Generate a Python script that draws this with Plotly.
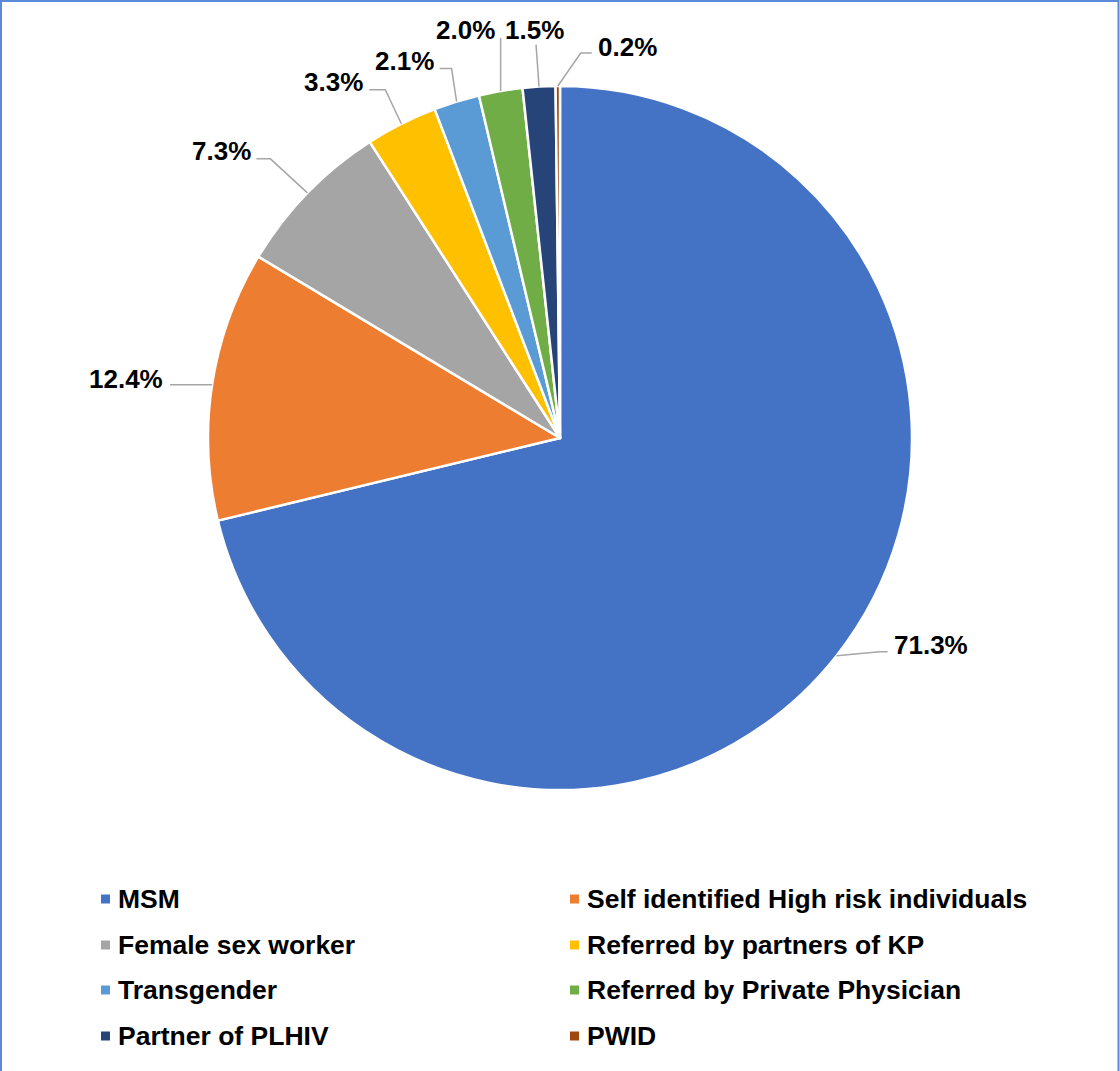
import math
import plotly.graph_objects as go

# Share of clients by referral / key-population category (%)
categories = [
    "MSM",
    "Self identified High risk individuals",
    "Female sex worker",
    "Referred by partners of KP",
    "Transgender",
    "Referred by Private Physician",
    "Partner of PLHIV",
    "PWID",
]
shares = [71.3, 12.4, 7.3, 3.3, 2.1, 2.0, 1.5, 0.2]
colors = ["#4472C4", "#ED7D31", "#A5A5A5", "#FFC000",
          "#5B9BD5", "#70AD47", "#264478", "#9E480E"]

# Canvas and pie geometry (pixels, y measured from the top)
W, H = 1120, 1071
CX, CY, R = 560, 438, 352

# Leader-line styling per slice: elbow offset from the rim point,
# horizontal run after the elbow, text offset from the line end, anchor.
leader_style = [
    ((43, -4), 8, (5, -7), "left"),
    ((-4, 0), -38, (-6, -6), "right"),
    ((-37, -34), -14, (-4, -8), "right"),
    ((-16, -34), -16, (-5, -8), "right"),
    ((-5, -33), -12, (-5, -8), "right"),
    ((0, -53), 0, (-5, -8), "right"),
    ((-3, -42), 0, (-2, -15), "center"),
    ((23, -33), 11, (5, -6), "left"),
]

# Legend grid: two columns, four rows
legend_cols = [(101, 117), (570, 586)]
legend_rows = [899, 945, 990, 1036]
SWATCH = 9

FONT = "Liberation Sans, Arial, sans-serif"


def px(x):
    return x / W


def py(y):
    return 1 - y / H


fig = go.Figure(go.Pie(
    labels=categories,
    values=shares,
    sort=False,
    direction="clockwise",
    rotation=0,
    marker=dict(colors=colors, line=dict(color="white", width=2.5)),
    textinfo="none",
    hovertemplate="%{label}: %{value}%<extra></extra>",
    domain=dict(x=[px(CX - R), px(CX + R)], y=[py(CY + R), py(CY - R)]),
    showlegend=False,
))

shapes = []
annotations = []

# Data labels with leader lines, anchored at each slice's mid-angle
total = sum(shares)
cum = 0.0
for val, (elb, run, toff, anchor) in zip(shares, leader_style):
    mid = (cum + val / 2) / total * 2 * math.pi
    cum += val
    ax = CX + R * math.sin(mid)
    ay = CY - R * math.cos(mid)
    ex, ey = ax + elb[0], ay + elb[1]
    fx, fy = ex + run, ey
    path = f"M {px(ax)},{py(ay)} L {px(ex)},{py(ey)} L {px(fx)},{py(fy)}"
    shapes.append(dict(type="path", xref="paper", yref="paper", path=path,
                       line=dict(color="#A6A6A6", width=1.5)))
    annotations.append(dict(
        x=px(fx + toff[0]), y=py(fy + toff[1]), xref="paper", yref="paper",
        text=f"{val:.1f}%", showarrow=False, xanchor=anchor, yanchor="middle",
        borderpad=0,
        font=dict(family=FONT, size=26, color="black", weight="bold"),
    ))

# Legend entries
for i, (name, col) in enumerate(zip(categories, colors)):
    sx, tx = legend_cols[i % 2]
    yc = legend_rows[i // 2]
    shapes.append(dict(type="rect", xref="paper", yref="paper",
                       x0=px(sx), x1=px(sx + SWATCH),
                       y0=py(yc + SWATCH / 2), y1=py(yc - SWATCH / 2),
                       fillcolor=col, line=dict(width=0)))
    annotations.append(dict(
        x=px(tx), y=py(yc), xref="paper", yref="paper", text=name,
        showarrow=False, xanchor="left", yanchor="middle", borderpad=0,
        font=dict(family=FONT, size=26.5, color="black", weight="bold"),
    ))

# Chart-area border
shapes.append(dict(type="rect", xref="paper", yref="paper",
                   x0=px(1), x1=px(1118.5), y0=-0.02, y1=py(1),
                   line=dict(color="#5A8AD8", width=2), fillcolor="rgba(0,0,0,0)"))

fig.update_layout(
    width=W, height=H,
    margin=dict(l=0, r=0, t=0, b=0),
    paper_bgcolor="white",
    plot_bgcolor="white",
    shapes=shapes,
    annotations=annotations,
)

fig.write_html("out.html")
